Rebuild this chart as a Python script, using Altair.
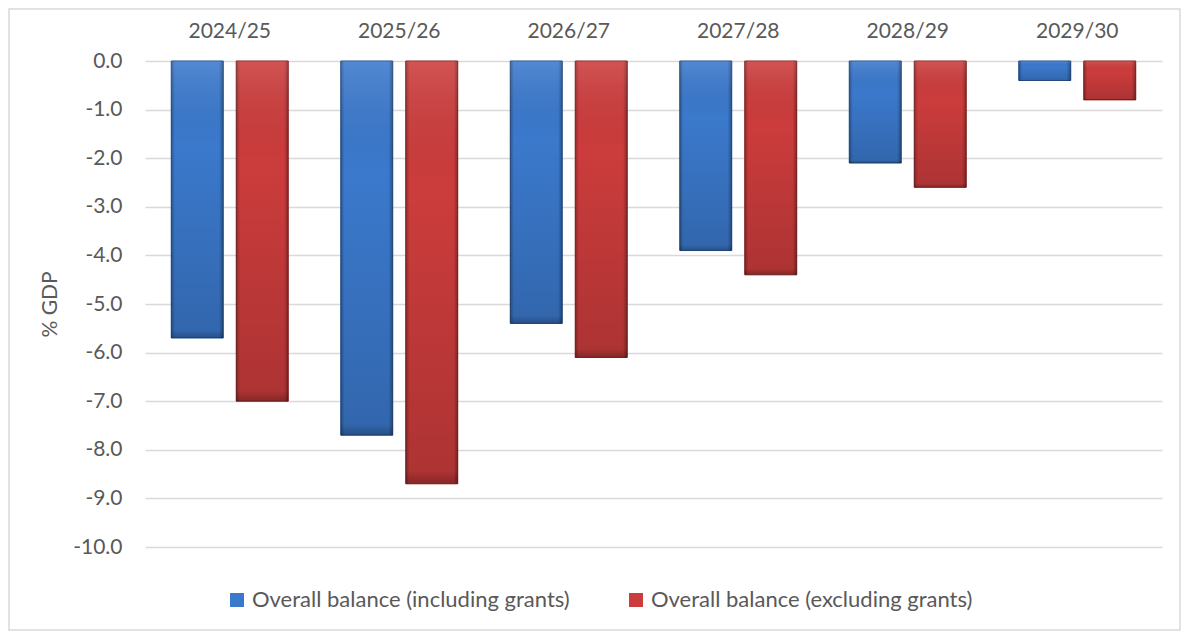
import altair as alt
import pandas as pd

years = ["2024/25", "2025/26", "2026/27", "2027/28", "2028/29", "2029/30"]
incl = [-5.7, -7.7, -5.4, -3.9, -2.1, -0.4]
excl = [-7.0, -8.7, -6.1, -4.4, -2.6, -0.8]
series = ["Overall balance (including grants)", "Overall balance (excluding grants)"]
fill_colors = ["#3b79cc", "#cc3c3c"]
edge_colors = ["#25518e", "#8a2323"]

rows = []
for i, yr in enumerate(years):
    rows.append({"year": yr, "series": series[0], "value": incl[i]})
    rows.append({"year": yr, "series": series[1], "value": excl[i]})
df = pd.DataFrame(rows)

FONT = "Lato"
GREY = "#595959"
W, H = 1017, 486

x = alt.X(
    "year:N",
    sort=years,
    scale=alt.Scale(paddingInner=0, paddingOuter=0),
    axis=alt.Axis(
        orient="top", title=None, labelAngle=0, ticks=False, domain=False,
        labelPadding=20, labelFontSize=21, labelColor=GREY, labelFont=FONT,
    ),
)
xo = alt.XOffset("series:N", sort=series,
                 scale=alt.Scale(paddingInner=0.2, paddingOuter=0.404))
y = alt.Y(
    "value:Q",
    scale=alt.Scale(domain=[-10, 0], nice=False),
    axis=alt.Axis(
        values=list(range(-10, 1)), ticks=False, domain=False,
        labelExpr="replace(format(datum.value, '.1f'), '\u2212', '-')",
        labelPadding=23, labelFontSize=21, labelColor=GREY, labelFont=FONT,
        grid=True, gridColor="#d9d9d9", gridWidth=1.5,
        title="% GDP", titleFont=FONT, titleFontSize=21, titleColor=GREY,
        titleFontWeight="normal", titleAngle=-90, titleX=-95, titleY=H / 2,
        titleAlign="center", titleBaseline="middle",
    ),
)

base = alt.Chart(df)

bars = base.mark_bar(strokeWidth=1).encode(
    x=x, xOffset=xo, y=y,
    color=alt.Color(
        "series:N", sort=series,
        scale=alt.Scale(domain=series, range=fill_colors),
        legend=alt.Legend(
            orient="none", legendX=81, legendY=528, direction="horizontal",
            title=None, symbolType="square", symbolSize=196,
            symbolStrokeWidth=0, labelFontSize=22, labelColor=GREY,
            labelFont=FONT, columnPadding=55, labelOffset=4, labelLimit=0,
        ),
    ),
    stroke=alt.Stroke("series:N", sort=series,
                      scale=alt.Scale(domain=series, range=edge_colors),
                      legend=None),
)

shade_h = base.mark_bar(
    fill=alt.Gradient(
        gradient="linear", x1=0, x2=1, y1=0, y2=0,
        stops=[
            alt.GradientStop(color="rgba(0,0,0,0.28)", offset=0),
            alt.GradientStop(color="rgba(0,0,0,0.0)", offset=0.07),
            alt.GradientStop(color="rgba(0,0,0,0.0)", offset=0.92),
            alt.GradientStop(color="rgba(0,0,0,0.32)", offset=1),
        ],
    ),
).encode(x=x, xOffset=xo, y=y)

shade_v = base.mark_bar(
    fill=alt.Gradient(
        gradient="linear", x1=0, x2=0, y1=0, y2=1,
        stops=[
            alt.GradientStop(color="rgba(255,255,255,0.12)", offset=0),
            alt.GradientStop(color="rgba(0,0,0,0.0)", offset=0.3),
            alt.GradientStop(color="rgba(0,0,0,0.15)", offset=0.97),
            alt.GradientStop(color="rgba(0,0,0,0.35)", offset=1),
        ],
    ),
).encode(x=x, xOffset=xo, y=y)

border = alt.Chart(alt.Data(values=[{"b": 1}])).mark_rect(
    filled=False, stroke="#d9d9d9", strokeWidth=1.5, clip=False
).encode(
    x=alt.value(-136), x2=alt.value(W + 18),
    y=alt.value(-52), y2=alt.value(H + 83),
)

chart = alt.layer(border, bars, shade_h, shade_v).properties(
    width=W, height=H,
    padding={"left": 137, "top": 53, "right": 19, "bottom": 84},
    autosize=alt.AutoSizeParams(type="none"),
    background="white",
).configure_view(stroke=None)

chart.save("out.html", embed_options={"renderer": "svg", "actions": False})
